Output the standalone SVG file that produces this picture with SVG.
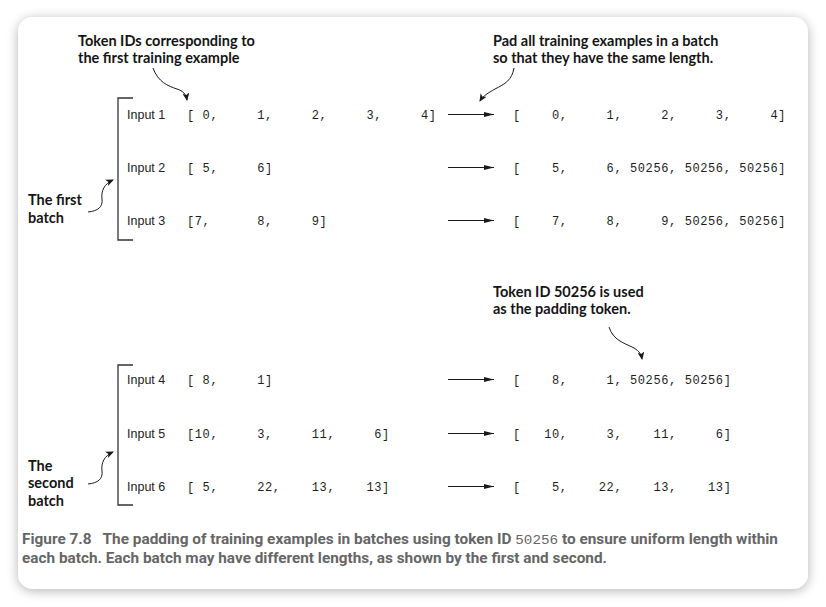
<svg xmlns="http://www.w3.org/2000/svg" width="826" height="607" viewBox="0 0 826 607">
<defs>
  <filter id="shadow" x="-10%" y="-10%" width="120%" height="120%">
    <feGaussianBlur in="SourceAlpha" stdDeviation="6"/>
    <feOffset dx="0" dy="2" result="b"/>
    <feComponentTransfer><feFuncA type="linear" slope="0.3"/></feComponentTransfer>
    <feMerge><feMergeNode/><feMergeNode in="SourceGraphic"/></feMerge>
  </filter>
  <marker id="ah" viewBox="0 0 10 6" refX="10" refY="3" markerWidth="10" markerHeight="6" markerUnits="userSpaceOnUse" orient="auto">
    <path d="M0,0.6 L10,3 L0,5.4 Z" fill="#1a1a1a"/>
  </marker>
  <marker id="ch" viewBox="0 0 8 7" refX="7" refY="3.5" markerWidth="8" markerHeight="7" markerUnits="userSpaceOnUse" orient="auto">
    <path d="M0,0 L8,3.5 L0,7 L2,3.5 Z" fill="#1a1a1a"/>
  </marker>
  <style>
    .ann { font-family: Lato, "Open Sans", "Liberation Sans", sans-serif; font-weight: bold; font-size: 14.5px; fill: #151515; }
    .lbl { font-family: "Liberation Sans", Arial, sans-serif; font-size: 12.5px; fill: #222; }
    .mono { font-family: "Liberation Mono", "Courier New", monospace; font-size: 12px; letter-spacing: 0.6px; fill: #1e1e1e; white-space: pre; }
    .cap { font-family: Roboto, "Liberation Sans", sans-serif; font-weight: bold; font-size: 14px; fill: #666666; }
    .capm { font-family: "Liberation Mono", monospace; font-weight: normal; font-size: 13px; fill: #666666; }
    .br { fill: none; stroke: #333; stroke-width: 1.3; }
    .arr { fill: none; stroke: #1a1a1a; stroke-width: 1.2; marker-end: url(#ah); }
    .curve { fill: none; stroke: #1a1a1a; stroke-width: 1; marker-end: url(#ch); }
  </style>
</defs>
<rect x="0" y="0" width="826" height="607" fill="#ffffff"/>
<rect x="18" y="17" width="790" height="572" rx="15" ry="15" fill="#ffffff" filter="url(#shadow)"/>

<g id="note-token-ids">
  <text class="ann" x="78" y="45.5">Token IDs corresponding to</text>
  <text class="ann" x="78" y="63">the first training example</text>
</g>
<g id="note-pad">
  <text class="ann" x="493" y="45.5">Pad all training examples in a batch</text>
  <text class="ann" x="493" y="63">so that they have the same length.</text>
</g>
<g id="note-padding-token">
  <text class="ann" x="493" y="296.5">Token ID 50256 is used</text>
  <text class="ann" x="493" y="314">as the padding token.</text>
</g>
<g id="note-first-batch">
  <text class="ann" x="28" y="205">The first</text>
  <text class="ann" x="28" y="222.5">batch</text>
</g>
<g id="note-second-batch">
  <text class="ann" x="28" y="470.5">The</text>
  <text class="ann" x="28" y="488">second</text>
  <text class="ann" x="28" y="505.5">batch</text>
</g>

<g id="batch1-bracket"><path class="br" d="M133,98 H118 V240 H133"/></g>
<g id="batch2-bracket"><path class="br" d="M133,365 H118 V505 H133"/></g>

<g id="input1"><text class="lbl" x="127" y="119">Input 1</text><text class="mono" x="187" y="119" xml:space="preserve">[ 0,     1,     2,     3,     4]</text></g>
<g id="input2"><text class="lbl" x="127" y="172">Input 2</text><text class="mono" x="187" y="172" xml:space="preserve">[ 5,     6]</text></g>
<g id="input3"><text class="lbl" x="127" y="225">Input 3</text><text class="mono" x="187" y="225" xml:space="preserve">[7,      8,     9]</text></g>
<g id="input4"><text class="lbl" x="127" y="384">Input 4</text><text class="mono" x="187" y="384" xml:space="preserve">[ 8,     1]</text></g>
<g id="input5"><text class="lbl" x="127" y="438">Input 5</text><text class="mono" x="187" y="438" xml:space="preserve">[10,     3,     11,     6]</text></g>
<g id="input6"><text class="lbl" x="127" y="491">Input 6</text><text class="mono" x="187" y="491" xml:space="preserve">[ 5,     22,    13,    13]</text></g>

<g id="padded1"><text class="mono" x="513" y="119" xml:space="preserve">[    0,     1,     2,     3,     4]</text></g>
<g id="padded2"><text class="mono" x="513" y="172" xml:space="preserve">[    5,     6, 50256, 50256, 50256]</text></g>
<g id="padded3"><text class="mono" x="513" y="225" xml:space="preserve">[    7,     8,     9, 50256, 50256]</text></g>
<g id="padded4"><text class="mono" x="513" y="384" xml:space="preserve">[    8,     1, 50256, 50256]</text></g>
<g id="padded5"><text class="mono" x="513" y="438" xml:space="preserve">[   10,     3,    11,     6]</text></g>
<g id="padded6"><text class="mono" x="513" y="491" xml:space="preserve">[    5,    22,    13,    13]</text></g>

<g id="connectors">
  <line class="arr" x1="448" y1="114.5" x2="494" y2="114.5"/>
  <line class="arr" x1="448" y1="167.5" x2="494" y2="167.5"/>
  <line class="arr" x1="448" y1="220.5" x2="494" y2="220.5"/>
  <line class="arr" x1="448" y1="379.5" x2="494" y2="379.5"/>
  <line class="arr" x1="448" y1="433.5" x2="494" y2="433.5"/>
  <line class="arr" x1="448" y1="486.5" x2="494" y2="486.5"/>
  <path class="curve" d="M153,68 C158,82 168,86 177,89 C183,91 186,94 187,100"/>
  <path class="curve" d="M514,68 C512,80 505,84 495,89 C488,93 483,96 480,101"/>
  <path class="curve" d="M609,327 C613,340 624,343 632,347 C638,350 641,353 642,359"/>
  <path class="curve" d="M88,212 C98,211 103,207 102,199 C101,191 104,184 113,180"/>
  <path class="curve" d="M88,484 C98,483 103,479 102,471 C101,463 104,456 113,452"/>
</g>

<g id="caption">
  <text class="cap" x="22" y="544" textLength="756" lengthAdjust="spacingAndGlyphs">Figure 7.8<tspan dx="10">The padding of training examples in batches using token ID </tspan><tspan class="capm">50256</tspan> to ensure uniform length within</text>
  <text class="cap" x="22" y="563" textLength="585" lengthAdjust="spacingAndGlyphs">each batch. Each batch may have different lengths, as shown by the first and second.</text>
</g>
</svg>
